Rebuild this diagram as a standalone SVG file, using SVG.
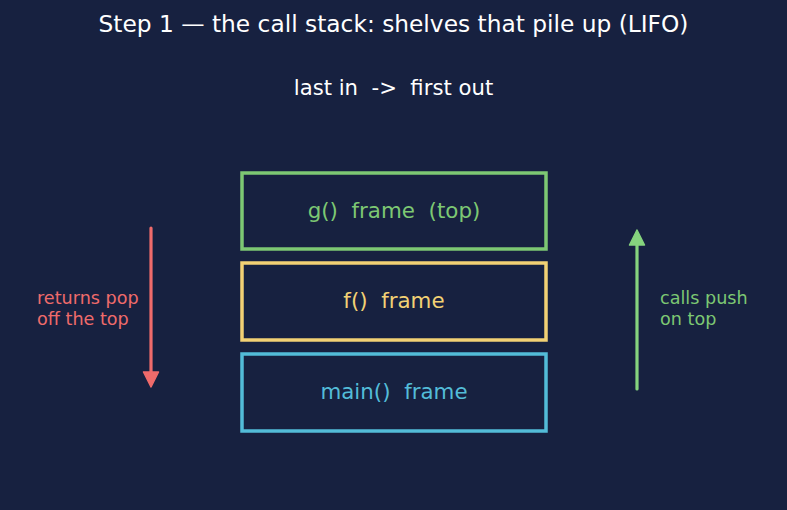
<svg xmlns="http://www.w3.org/2000/svg" width="787" height="510" viewBox="0 0 787 510">
<defs>
<style>
text{font-family:"DejaVu Sans","Noto Sans",sans-serif;white-space:pre}
.box{fill:none;stroke-width:3.5}
.lbl{font-size:21.4px;text-anchor:middle}
.side{font-size:17.6px}
</style>
</defs>
<rect width="787" height="510" fill="#172140"/>
<text x="393.5" y="32" font-size="23.3" fill="#ffffff" text-anchor="middle">Step 1 — the call stack: shelves that pile up (LIFO)</text>
<text x="393.5" y="95" font-size="21.2" fill="#ffffff" text-anchor="middle">last in  -&gt;  first out</text>
<g id="g-frame"><rect class="box" x="242" y="173" width="304" height="76" stroke="#7dc873"/><text class="lbl" x="394" y="218" fill="#7dc873">g()  frame  (top)</text></g>
<g id="f-frame"><rect class="box" x="242" y="263" width="304" height="77" stroke="#f2d174"/><text class="lbl" x="394" y="308" fill="#f2d174">f()  frame</text></g>
<g id="main-frame"><rect class="box" x="242" y="354" width="304" height="77" stroke="#53bcd8"/><text class="lbl" x="394" y="399" fill="#53bcd8">main()  frame</text></g>
<g id="connectors">
<line x1="151" y1="228" x2="151" y2="376" stroke="#ef6b6b" stroke-width="3.2" stroke-linecap="round"/>
<path d="M143.5,372 L158.5,372 L151,387 z" fill="#ef6b6b" stroke="#ef6b6b" stroke-width="1.5" stroke-linejoin="round"/>
<line x1="637" y1="389" x2="637" y2="242" stroke="#86d47e" stroke-width="3.2" stroke-linecap="round"/>
<path d="M629.5,245 L644.5,245 L637,230 z" fill="#86d47e" stroke="#86d47e" stroke-width="1.5" stroke-linejoin="round"/>
</g>
<text class="side" x="37" y="304" fill="#ef6b6b">returns pop</text>
<text class="side" x="37" y="325" fill="#ef6b6b">off the top</text>
<text class="side" x="660" y="304" fill="#7dc873">calls push</text>
<text class="side" x="660" y="325" fill="#7dc873">on top</text>
</svg>
